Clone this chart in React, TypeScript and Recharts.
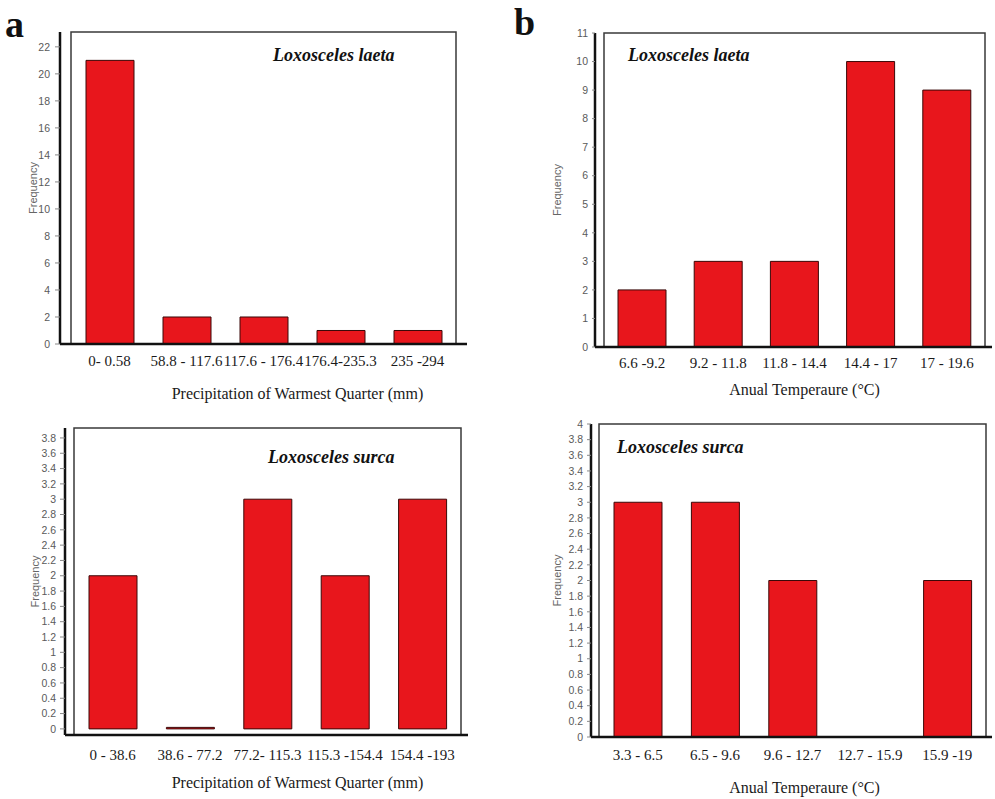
import React from 'react';
import {
  BarChart,
  Bar,
  XAxis,
  YAxis,
  ReferenceArea,
} from 'recharts';

// Panel a: Precipitation of Warmest Quarter
const precipLaetaBins = ['0- 0.58', '58.8 - 117.6', '117.6 - 176.4', '176.4-235.3', '235 -294'];
const precipLaetaFreq = [21, 2, 2, 1, 1];
const precipLaetaTicks = [0, 2, 4, 6, 8, 10, 12, 14, 16, 18, 20, 22];

const precipSurcaBins = ['0 - 38.6', '38.6 - 77.2', '77.2- 115.3', '115.3 -154.4', '154.4 -193'];
const precipSurcaFreq = [2, 0, 3, 2, 3];
const precipSurcaTicks = [0, 0.2, 0.4, 0.6, 0.8, 1, 1.2, 1.4, 1.6, 1.8, 2, 2.2, 2.4, 2.6, 2.8, 3, 3.2, 3.4, 3.6, 3.8];

// Panel b: Annual Temperature
const tempLaetaBins = ['6.6 -9.2', '9.2 - 11.8', '11.8 - 14.4', '14.4 - 17', '17 - 19.6'];
const tempLaetaFreq = [2, 3, 3, 10, 9];
const tempLaetaTicks = [0, 1, 2, 3, 4, 5, 6, 7, 8, 9, 10, 11];

const tempSurcaBins = ['3.3 - 6.5', '6.5 - 9.6', '9.6 - 12.7', '12.7 - 15.9', '15.9 -19'];
const tempSurcaFreq = [3, 3, 2, 0, 2];
const tempSurcaTicks = [0, 0.2, 0.4, 0.6, 0.8, 1, 1.2, 1.4, 1.6, 1.8, 2, 2.2, 2.4, 2.6, 2.8, 3, 3.2, 3.4, 3.6, 3.8, 4];

const SERIF = '"Liberation Serif", "Times New Roman", serif';
const SANS = '"Liberation Sans", Arial, sans-serif';
const BAR_FILL = '#e8161c';
const BAR_STROKE = '#3a0808';

interface PanelProps {
  left: number;
  top: number;
  width: number;
  height: number;
  bins: string[];
  freq: number[];
  ticks: number[];
  domain: [number, number];
  margin: { top: number; right: number; left: number; bottom: number };
  yWidth: number;
  xHeight: number;
  xPad: { left: number; right: number };
  xTickGap: number;
  xLabel: string;
  xLabelOffset: number;
  xLabelShift: number;
  freqOffset: number;
  yTickSize: number;
  yTickMargin: number;
  minPoint?: number;
}

const Panel: React.FC<PanelProps> = (p) => {
  const data = p.bins.map((bin, i) => ({ bin, freq: p.freq[i] }));
  return (
    <div style={{ position: 'absolute', left: p.left, top: p.top }}>
      <BarChart width={p.width} height={p.height} data={data} margin={p.margin}>
        <ReferenceArea
          y1={p.domain[0]}
          y2={p.domain[1]}
          fill="none"
          stroke="#3a3a3a"
          strokeWidth={1.5}
          ifOverflow="visible"
        />
        <XAxis
          dataKey="bin"
          height={p.xHeight}
          padding={p.xPad}
          interval={0}
          tickLine={false}
          tickSize={0}
          tickMargin={p.xTickGap}
          axisLine={{ stroke: '#111', strokeWidth: 2.5 }}
          tick={{ fill: '#1a1a1a', fontSize: 15, fontFamily: SERIF }}
          label={{
            value: p.xLabel,
            position: 'insideTop',
            offset: p.xLabelOffset,
            dx: p.xLabelShift,
            style: { fill: '#1a1a1a', fontSize: 16, fontFamily: SERIF },
          }}
        />
        <YAxis
          width={p.yWidth}
          domain={p.domain}
          ticks={p.ticks}
          allowDataOverflow
          interval={0}
          tickSize={p.yTickSize}
          tickMargin={p.yTickMargin}
          axisLine={{ stroke: '#111', strokeWidth: 2.5 }}
          tickLine={{ stroke: '#888' }}
          tick={{ fill: '#5a5a5a', fontSize: 10.5, fontFamily: SANS }}
          label={{
            value: 'Frequency',
            angle: -90,
            position: 'insideLeft',
            offset: p.freqOffset,
            style: { textAnchor: 'middle', fill: '#666', fontSize: 11, fontFamily: SANS },
          }}
        />
        <Bar
          dataKey="freq"
          barSize={48}
          fill={BAR_FILL}
          stroke={BAR_STROKE}
          strokeWidth={1}
          minPointSize={p.minPoint}
          isAnimationActive={false}
        />
      </BarChart>
    </div>
  );
};

const titleStyle: React.CSSProperties = {
  position: 'absolute',
  fontFamily: SERIF,
  fontStyle: 'italic',
  fontWeight: 'bold',
  fontSize: 18,
  color: '#111',
  lineHeight: '20px',
  whiteSpace: 'nowrap',
};

const letterStyle: React.CSSProperties = {
  position: 'absolute',
  fontFamily: SERIF,
  fontWeight: 'bold',
  fontSize: 38,
  color: '#111',
  lineHeight: '38px',
};

export default function App() {
  return (
    <div
      style={{
        position: 'absolute',
        left: 0,
        top: 0,
        width: 995,
        height: 799,
        background: '#fff',
        overflow: 'hidden',
      }}
    >
      <div style={{ ...letterStyle, left: 5, top: 5 }}>a</div>
      <div style={{ ...letterStyle, left: 514, top: 3 }}>b</div>

      {/* a - top: L. laeta precipitation */}
      <Panel
        left={0}
        top={0}
        width={480}
        height={410}
        bins={precipLaetaBins}
        freq={precipLaetaFreq}
        ticks={precipLaetaTicks}
        domain={[0, 23.1]}
        margin={{ top: 32, right: 13, left: 0, bottom: 0 }}
        yWidth={60}
        xHeight={66}
        xPad={{ left: 11, right: 11 }}
        xTickGap={11}
        xLabel="Precipitation of Warmest Quarter (mm)"
        xLabelOffset={44}
        xLabelShift={34}
        freqOffset={33}
        yTickSize={5}
        yTickMargin={5}
      />
      <div style={{ ...titleStyle, left: 273, top: 45 }}>Loxosceles laeta</div>

      {/* a - bottom: L. surca precipitation */}
      <Panel
        left={0}
        top={400}
        width={480}
        height={399}
        bins={precipSurcaBins}
        freq={precipSurcaFreq}
        ticks={precipSurcaTicks}
        domain={[-0.08, 3.93]}
        margin={{ top: 28, right: 12, left: 0, bottom: 0 }}
        yWidth={65}
        xHeight={64}
        xPad={{ left: 9, right: 7 }}
        xTickGap={14}
        xLabel="Precipitation of Warmest Quarter  (mm)"
        xLabelOffset={42}
        xLabelShift={31}
        freqOffset={35}
        yTickSize={5}
        yTickMargin={4}
        minPoint={1.5}
      />
      <div style={{ ...titleStyle, left: 268, top: 447 }}>Loxosceles surca</div>

      {/* b - top: L. laeta temperature */}
      <Panel
        left={500}
        top={0}
        width={495}
        height={410}
        bins={tempLaetaBins}
        freq={tempLaetaFreq}
        ticks={tempLaetaTicks}
        domain={[0, 11]}
        margin={{ top: 33, right: 3, left: 0, bottom: 0 }}
        yWidth={95}
        xHeight={63}
        xPad={{ left: 9, right: 7 }}
        xTickGap={10}
        xLabel="Anual Temperaure (°C)"
        xLabelOffset={37}
        xLabelShift={11}
        freqOffset={57}
        yTickSize={3}
        yTickMargin={4}
      />
      <div style={{ ...titleStyle, left: 628, top: 45 }}>Loxosceles laeta</div>

      {/* b - bottom: L. surca temperature */}
      <Panel
        left={500}
        top={400}
        width={495}
        height={399}
        bins={tempSurcaBins}
        freq={tempSurcaFreq}
        ticks={tempSurcaTicks}
        domain={[0, 4]}
        margin={{ top: 24, right: 3, left: 0, bottom: 0 }}
        yWidth={91}
        xHeight={62}
        xPad={{ left: 8, right: 6 }}
        xTickGap={12}
        xLabel="Anual Temperaure (°C)"
        xLabelOffset={45}
        xLabelShift={13}
        freqOffset={57}
        yTickSize={4}
        yTickMargin={4}
      />
      <div style={{ ...titleStyle, left: 617, top: 437 }}>Loxosceles surca</div>
    </div>
  );
}
